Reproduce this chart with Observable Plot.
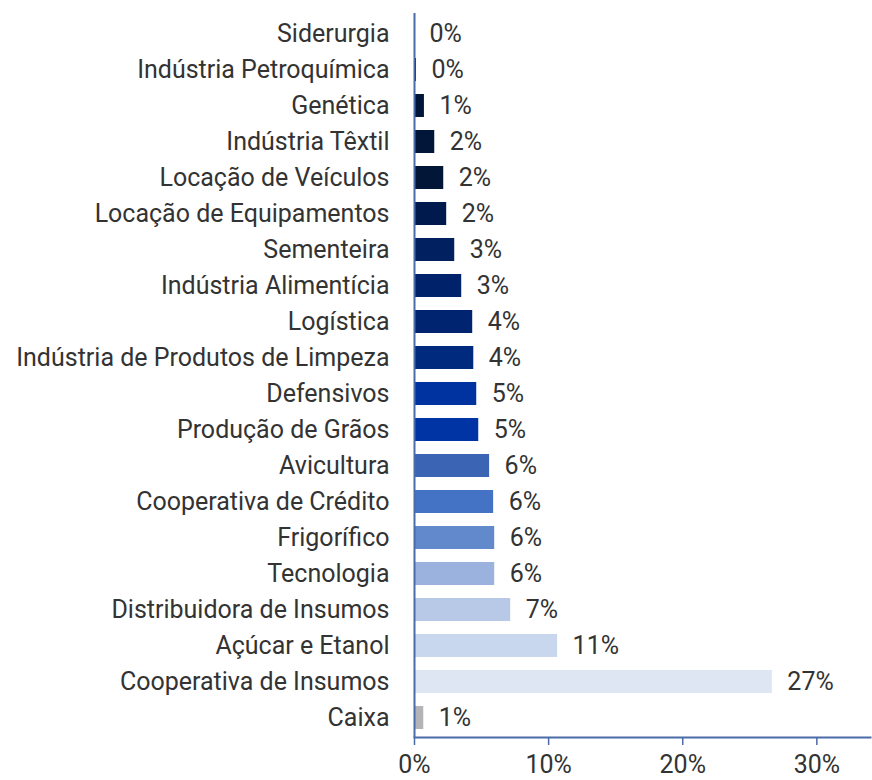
<!DOCTYPE html>
<html><head><meta charset="utf-8">
<script src="https://cdn.jsdelivr.net/npm/d3@7"></script>
<script src="https://cdn.jsdelivr.net/npm/@observablehq/plot@0.6"></script>
<style>body{margin:0;background:#fff}</style>
</head><body><div id="chart"></div>
<script>
const categories = ["Siderurgia","Indústria Petroquímica","Genética","Indústria Têxtil","Locação de Veículos","Locação de Equipamentos","Sementeira","Indústria Alimentícia","Logística","Indústria de Produtos de Limpeza","Defensivos","Produção de Grãos","Avicultura","Cooperativa de Crédito","Frigorífico","Tecnologia","Distribuidora de Insumos","Açúcar e Etanol","Cooperativa de Insumos","Caixa"];
const values = [0.0, 0.15, 0.74, 1.51, 2.18, 2.4, 3.0, 3.52, 4.34, 4.42, 4.64, 4.79, 5.6, 5.9, 5.98, 5.98, 7.17, 10.67, 26.68, 0.69];
const valueLabels = ["0%","0%","1%","2%","2%","2%","3%","3%","4%","4%","5%","5%","6%","6%","6%","6%","7%","11%","27%","1%"];
const barColors = ["#0d1f45","#0d1f45","#02163a","#02163a","#021638","#001a4d","#00205f","#00226a","#002470","#002a7e","#0033a0","#0034a4","#3c64b4","#4472c4","#6389cd","#9bb1de","#b8c9e8","#c9d7ee","#dfe6f3","#b3b3b8"];
const xTicks = [0, 10, 20, 30];
const xTickLabels = ["0%","10%","20%","30%"];

const data = categories.map((c, i) => ({category: c, value: values[i], label: valueLabels[i], color: barColors[i]}));
const axisColor = "#4a6aa8";

const chart = Plot.plot({
  width: 872, height: 780,
  marginLeft: 414, marginRight: 2, marginTop: 13, marginBottom: 43,
  style: {fontFamily: "Roboto", fontSize: "25px", color: "#333", background: "#fff"},
  x: {domain: [0, 34], label: null},
  y: {domain: categories, paddingInner: 0.37, paddingOuter: 0.185, label: null},
  color: {type: "identity"},
  marks: [
    Plot.barX(data, {x: "value", y: "category", fill: "color"}),
    Plot.text(data, {x: "value", y: "category", text: "label", textAnchor: "start", dx: 15, fill: "#333", fontSize: 25}),
    Plot.axisY({tickSize: 0, tickPadding: 25, fontSize: 25, fill: "#333"}),
    Plot.axisX({ticks: xTicks, tickFormat: (d) => xTickLabels[xTicks.indexOf(d)], tickSize: 8, tickPadding: 10, stroke: axisColor, strokeWidth: 1.5, fontSize: 25, fill: "#333"}),
    Plot.ruleX([0], {stroke: axisColor, strokeWidth: 2}),
    Plot.frame({anchor: "bottom", stroke: axisColor, strokeWidth: 2})
  ]
});
document.getElementById("chart").appendChild(chart);
</script>
</body></html>
